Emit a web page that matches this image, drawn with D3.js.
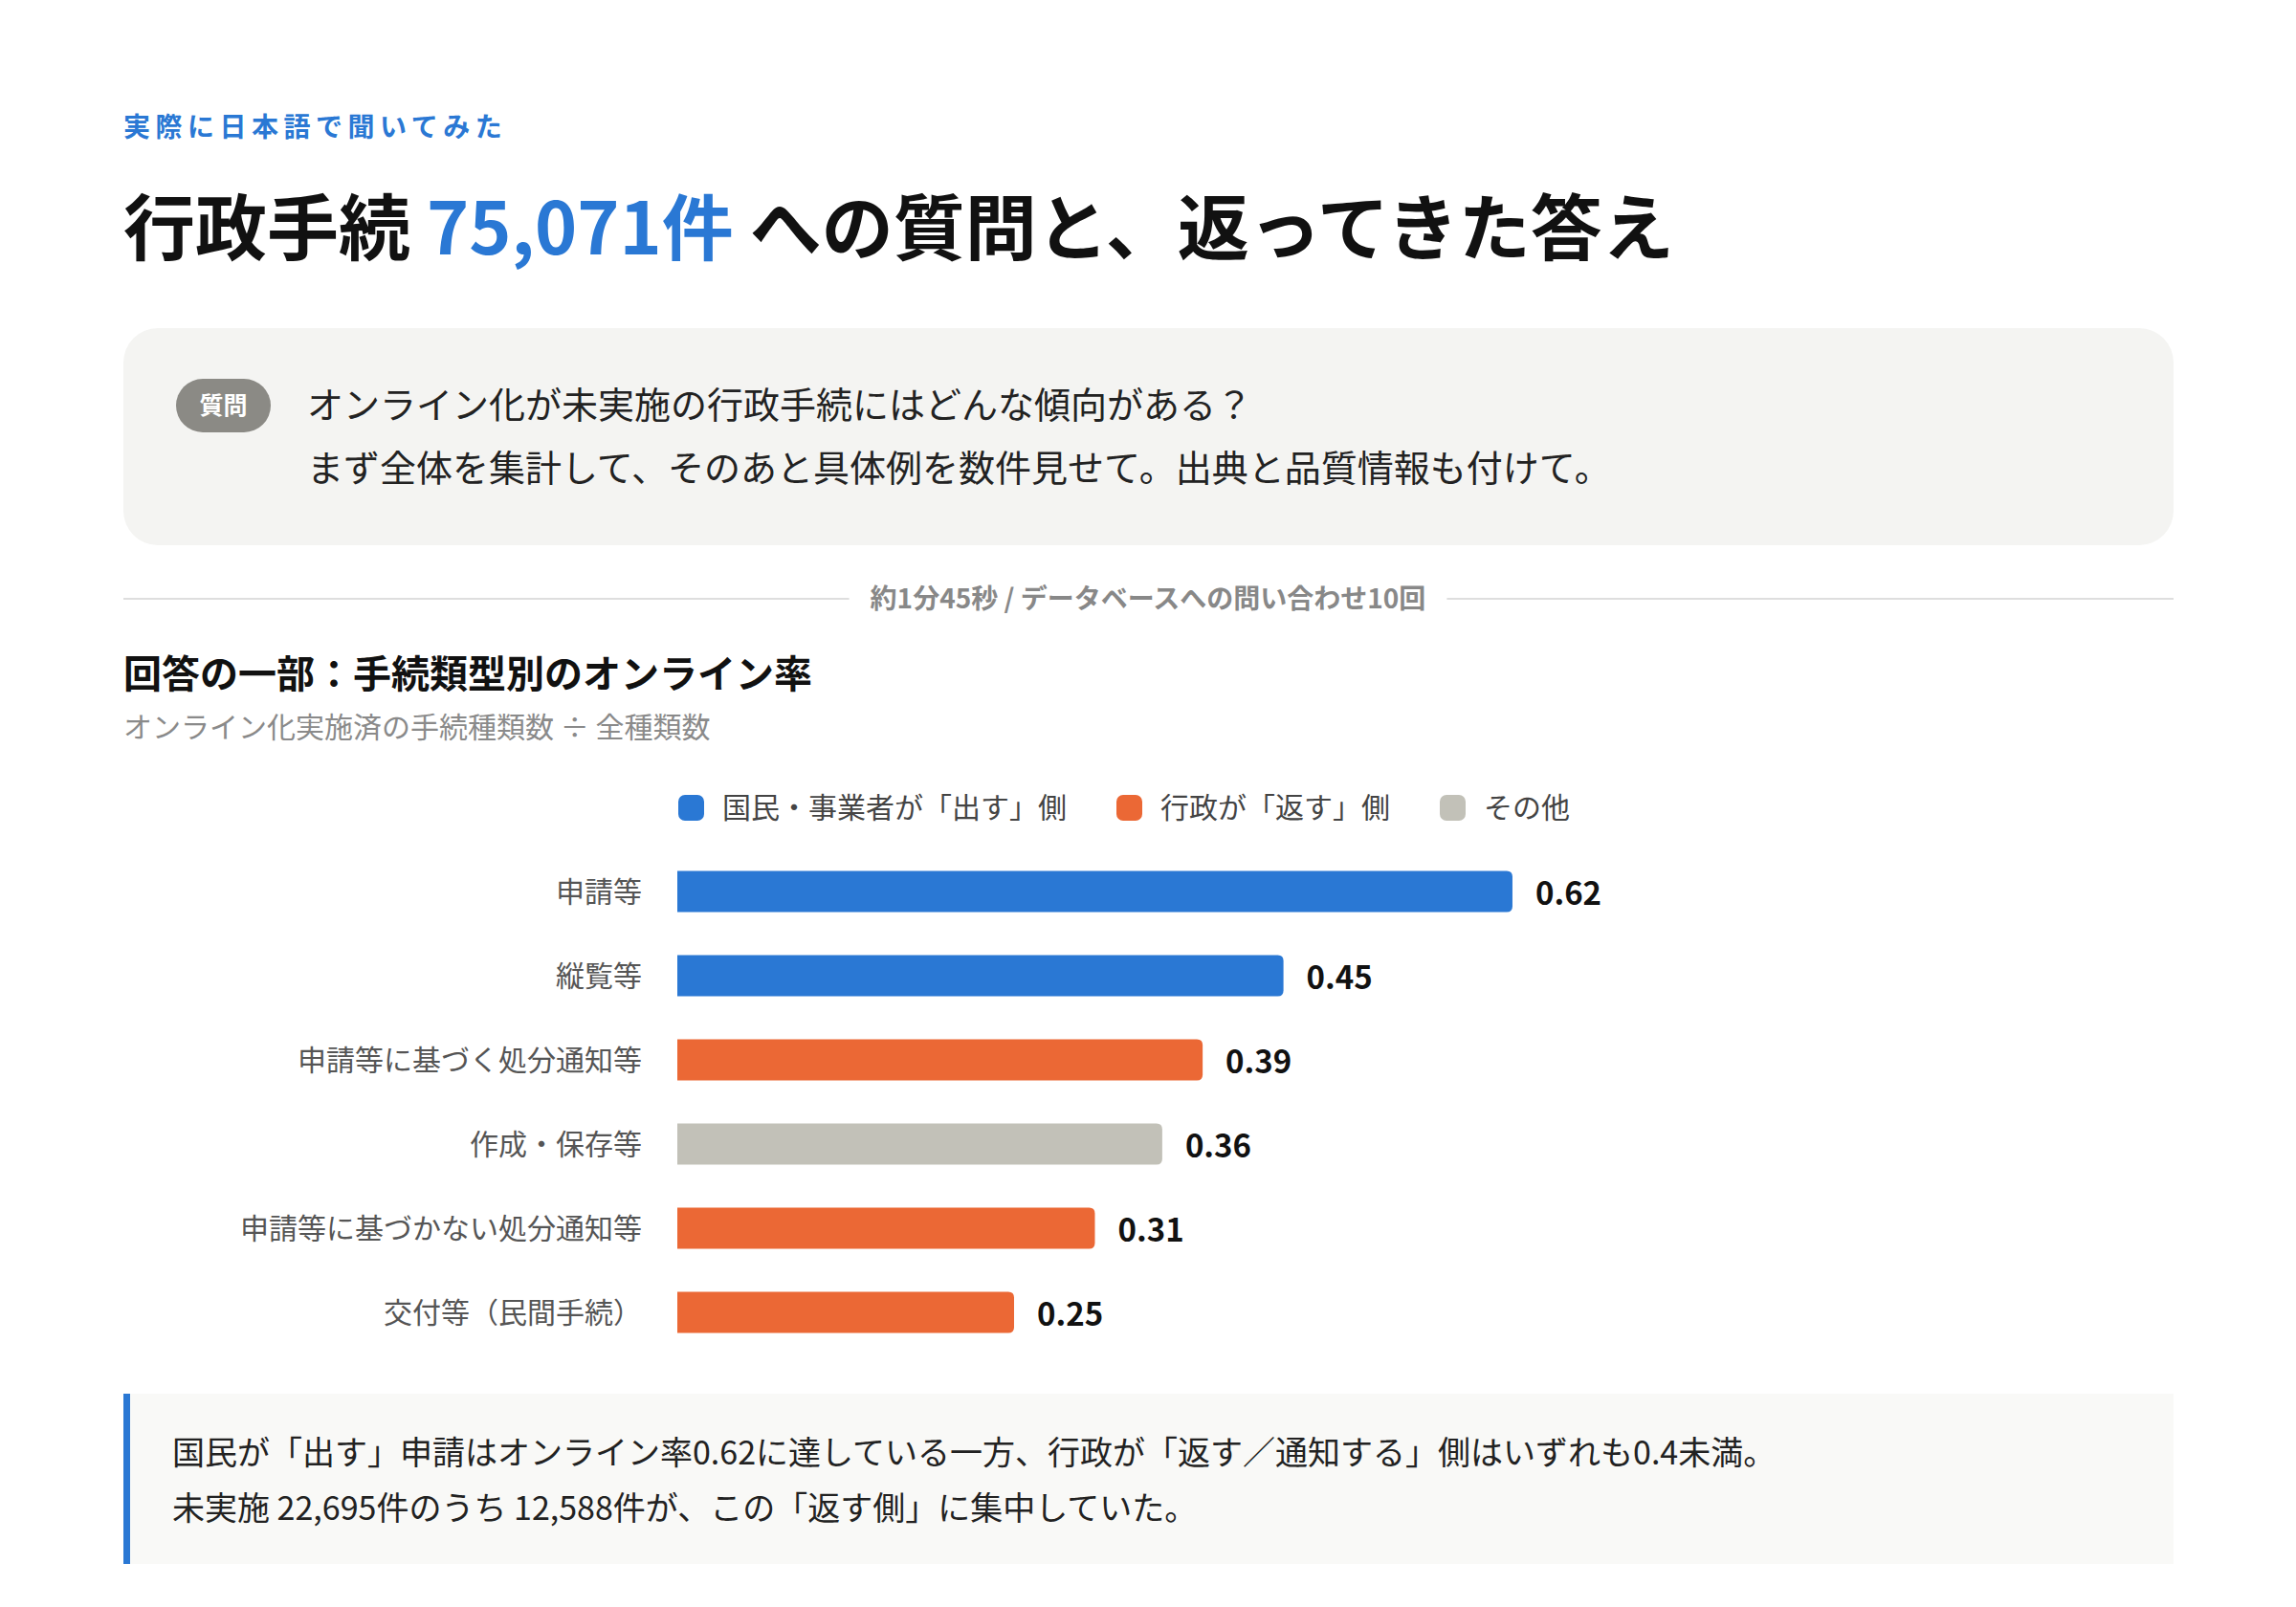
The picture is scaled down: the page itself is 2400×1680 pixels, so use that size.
<!DOCTYPE html>
<html lang="ja">
<head>
<meta charset="UTF-8">
<title>行政手続への質問と、返ってきた答え</title>
<script src="https://d3js.org/d3.v7.min.js"></script>
<style>
  html, body { margin: 0; padding: 0; background: #fff; }
  svg { display: block; font-family: "Noto Sans CJK JP", "Noto Sans", sans-serif; }
</style>
</head>
<body>
<script>
// data
const categories = ["申請等", "縦覧等", "申請等に基づく処分通知等", "作成・保存等", "申請等に基づかない処分通知等", "交付等（民間手続）"];
const rates = [0.62, 0.45, 0.39, 0.36, 0.31, 0.25];
const sides = ["out", "out", "back", "other", "back", "back"];
const legendKeys = ["out", "back", "other"];
const legendLabels = ["国民・事業者が「出す」側", "行政が「返す」側", "その他"];
const sideColors = ["#2a78d4", "#eb6835", "#c2c1b8"];

const W = 2400, H = 1680;
const left = 129, right = 2272;

const svg = d3.select("body").append("svg")
  .attr("width", W)
  .attr("height", H)
  .attr("viewBox", [0, 0, W, H]);

// header
svg.append("text")
  .attr("x", left).attr("y", 143)
  .attr("fill", "#2a78d4")
  .attr("font-size", 28).attr("font-weight", 700)
  .attr("letter-spacing", 5.5)
  .text("実際に日本語で聞いてみた");

const title = svg.append("text")
  .attr("x", left).attr("y", 266)
  .attr("fill", "#111")
  .attr("font-size", 75).attr("font-weight", 700);
title.append("tspan").text("行政手続 ");
title.append("tspan").attr("fill", "#2a78d4").text("75,071件");
title.append("tspan").text(" への質問と、返ってきた答え");

// question box
svg.append("rect")
  .attr("x", left).attr("y", 343)
  .attr("width", right - left).attr("height", 227)
  .attr("rx", 36)
  .attr("fill", "#f4f4f2");

svg.append("rect")
  .attr("x", 184).attr("y", 396)
  .attr("width", 99).attr("height", 56)
  .attr("rx", 28)
  .attr("fill", "#8b8a85");
svg.append("text")
  .attr("x", 233.5).attr("y", 433)
  .attr("text-anchor", "middle")
  .attr("fill", "#fff")
  .attr("font-size", 25).attr("font-weight", 700)
  .text("質問");

const qLines = ["オンライン化が未実施の行政手続にはどんな傾向がある？",
                "まず全体を集計して、そのあと具体例を数件見せて。出典と品質情報も付けて。"];
svg.selectAll("text.q")
  .data(qLines)
  .join("text")
  .attr("class", "q")
  .attr("x", 321)
  .attr("y", (d, i) => 437 + i * 66)
  .attr("fill", "#222")
  .attr("font-size", 38)
  .text(d => d);

// divider
const metaText = svg.append("text")
  .attr("x", 1200).attr("y", 636)
  .attr("text-anchor", "middle")
  .attr("fill", "#888")
  .attr("font-size", 28).attr("font-weight", 700)
  .text("約1分45秒 / データベースへの問い合わせ10回");
const mb = metaText.node().getBBox();
svg.append("line")
  .attr("x1", left).attr("x2", mb.x - 22)
  .attr("y1", 626).attr("y2", 626)
  .attr("stroke", "#dedede").attr("stroke-width", 2);
svg.append("line")
  .attr("x1", mb.x + mb.width + 22).attr("x2", right)
  .attr("y1", 626).attr("y2", 626)
  .attr("stroke", "#dedede").attr("stroke-width", 2);

// chart heading
svg.append("text")
  .attr("x", left).attr("y", 719)
  .attr("fill", "#111")
  .attr("font-size", 40).attr("font-weight", 700)
  .text("回答の一部：手続類型別のオンライン率");
svg.append("text")
  .attr("x", left).attr("y", 771)
  .attr("fill", "#8a8a8a")
  .attr("font-size", 30)
  .text("オンライン化実施済の手続種類数 ÷ 全種類数");

// scales
const color = d3.scaleOrdinal().domain(legendKeys).range(sideColors);
const x = d3.scaleLinear().domain([0, 1]).range([708, 2116]);
const y = d3.scaleBand().domain(categories).range([888, 1416]).paddingInner(0.51).paddingOuter(0.255);

// legend
const legendX = [709, 1167, 1505];
const lg = svg.append("g").selectAll("g")
  .data(legendKeys)
  .join("g")
  .attr("transform", (d, i) => `translate(${legendX[i]},844)`);
lg.append("rect")
  .attr("x", 0).attr("y", -13)
  .attr("width", 27).attr("height", 27)
  .attr("rx", 7)
  .attr("fill", d => color(d));
lg.append("text")
  .attr("x", 46).attr("y", 11)
  .attr("fill", "#444")
  .attr("font-size", 30)
  .text((d, i) => legendLabels[i]);

// bars
const rows = categories.map((c, i) => ({ cat: c, v: rates[i], side: sides[i] }));
const r = 6;
const barPath = d => {
  const x0 = x(0), x1 = x(d.v), y0 = y(d.cat), h = y.bandwidth();
  return `M${x0},${y0}H${x1 - r}Q${x1},${y0} ${x1},${y0 + r}V${y0 + h - r}Q${x1},${y0 + h} ${x1 - r},${y0 + h}H${x0}Z`;
};
svg.append("g").selectAll("path")
  .data(rows)
  .join("path")
  .attr("d", barPath)
  .attr("fill", d => color(d.side));

svg.append("g").selectAll("text")
  .data(rows)
  .join("text")
  .attr("x", x(0) - 37)
  .attr("y", d => y(d.cat) + y.bandwidth() / 2)
  .attr("dy", "0.35em")
  .attr("text-anchor", "end")
  .attr("fill", "#555")
  .attr("font-size", 30)
  .text(d => d.cat);

svg.append("g").selectAll("text")
  .data(rows)
  .join("text")
  .attr("x", d => x(d.v) + 24)
  .attr("y", d => y(d.cat) + y.bandwidth() / 2 + 2)
  .attr("dy", "0.35em")
  .attr("fill", "#111")
  .attr("font-size", 33).attr("font-weight", 700)
  .text(d => d3.format(".2f")(d.v));

// note box
svg.append("rect")
  .attr("x", left).attr("y", 1457)
  .attr("width", right - left).attr("height", 178)
  .attr("fill", "#f9f9f7");
svg.append("rect")
  .attr("x", left).attr("y", 1457)
  .attr("width", 7).attr("height", 178)
  .attr("fill", "#2a78d4");

const noteLines = ["国民が「出す」申請はオンライン率0.62に達している一方、行政が「返す／通知する」側はいずれも0.4未満。",
                   "未実施 22,695件のうち 12,588件が、この「返す側」に集中していた。"];
svg.selectAll("text.note")
  .data(noteLines)
  .join("text")
  .attr("class", "note")
  .attr("x", 180)
  .attr("y", (d, i) => 1531 + i * 58)
  .attr("fill", "#222")
  .attr("font-size", 34)
  .text(d => d);
</script>
</body>
</html>
